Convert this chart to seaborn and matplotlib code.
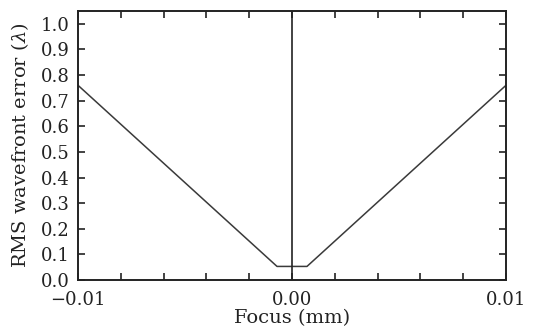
import matplotlib
matplotlib.use("Agg")
import matplotlib.pyplot as plt
from matplotlib.ticker import MultipleLocator, FixedLocator
import seaborn as sns
import pandas as pd

# Focus sweep and RMS wavefront error (in waves)
focus_mm = [-0.01, -0.0007, 0.0007, 0.01]
rms_error = [0.76, 0.053, 0.053, 0.76]

x_tick_values = [-0.01, 0.0, 0.01]
x_tick_labels = ["\u22120.01", "0.00", "0.01"]
y_tick_values = [0.0, 0.1, 0.2, 0.3, 0.4, 0.5, 0.6, 0.7, 0.8, 0.9, 1.0]

df = pd.DataFrame({"focus": focus_mm, "rms": rms_error})

sns.set_theme(style="ticks")
plt.rcParams["font.family"] = ["DejaVu Serif"]
plt.rcParams["mathtext.fontset"] = "dejavuserif"

fig = plt.figure(figsize=(5.35, 3.31), dpi=100)
ax = fig.add_axes([78 / 535, 1 - 280 / 331, 428 / 535, 269 / 331])

sns.lineplot(data=df, x="focus", y="rms", ax=ax, color="#3a3a3a", linewidth=1.1)
ax.axvline(0.0, color="#222222", linewidth=1.2)

ax.set_xlim(-0.01, 0.01)
ax.set_ylim(0.0, 1.05)

ax.xaxis.set_major_locator(FixedLocator(x_tick_values))
ax.set_xticklabels(x_tick_labels)
ax.xaxis.set_minor_locator(MultipleLocator(0.002))
ax.yaxis.set_major_locator(FixedLocator(y_tick_values))
ax.set_yticklabels([f"{v:.1f}" for v in y_tick_values])

ax.tick_params(axis="both", which="both", direction="in", top=True, right=True,
               colors="#222222", width=1.2, labelsize=13, labelcolor="#222222")
ax.tick_params(which="major", length=5)
ax.tick_params(which="minor", length=5)
ax.tick_params(axis="x", pad=8)
ax.tick_params(axis="y", pad=6)

for s in ax.spines.values():
    s.set_linewidth(1.4)
    s.set_color("#222222")

ax.set_xlabel("Focus (mm)", fontsize=14, color="#222222", labelpad=0)
ax.set_ylabel(r"RMS wavefront error ($\lambda$)", fontsize=14, color="#222222", labelpad=7)

fig.savefig("out.png", dpi=100)
